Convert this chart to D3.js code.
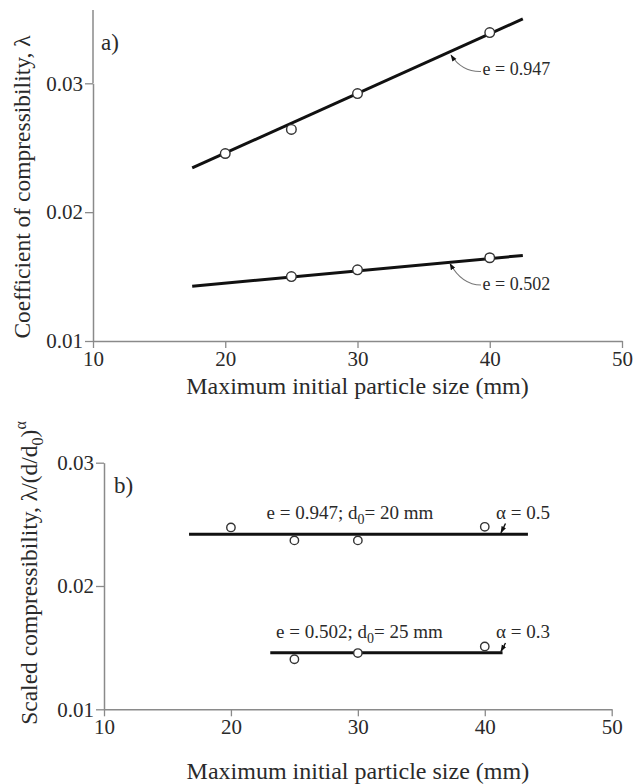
<!DOCTYPE html>
<html>
<head>
<meta charset="utf-8">
<script src="https://cdn.jsdelivr.net/npm/d3@7/dist/d3.min.js"></script>
<style>
  html, body { margin: 0; padding: 0; background: #fff; }
  svg text { font-family: "Liberation Serif", "Times New Roman", serif; fill: #2a2a2a; }
</style>
</head>
<body>
<svg id="chart" width="636" height="784"></svg>
<script>
// ---- Data ----
const xTicks = [10, 20, 30, 40, 50];
const yTicks = [0.01, 0.02, 0.03];

// (a) coefficient of compressibility vs. maximum particle size
const aSizes = [20, 25, 30, 40];
const aDense = [25, 30, 40];                 // sizes tested for e = 0.502
const aLooseValues = [0.02455, 0.02642, 0.0292, 0.03394];   // e = 0.947
const aDenseValues = [0.0150, 0.01552, 0.01646];            // e = 0.502
const aLooseFit = [[17.5, 0.02343], [42.5, 0.0350]];
const aDenseFit = [[17.5, 0.01425], [42.5, 0.01664]];

// (b) scaled compressibility
const bLooseSizes = [20, 25, 30, 40];
const bLooseValues = [0.02475, 0.02370, 0.02370, 0.02480];  // e = 0.947, d0 = 20 mm, alpha = 0.5
const bDenseSizes = [25, 30, 40];
const bDenseValues = [0.01406, 0.01456, 0.01510];           // e = 0.502, d0 = 25 mm, alpha = 0.3
const bLooseFit = [[16.7, 0.02420], [43.4, 0.02420]];
const bDenseFit = [[23.1, 0.01458], [41.4, 0.01458]];

const svg = d3.select("#chart");
const AXIS = "#8a8a8a";
const SERIF = "Liberation Serif, Times New Roman, serif";

svg.append("defs").append("marker")
  .attr("id", "arrow")
  .attr("viewBox", "0 0 10 10")
  .attr("refX", 9).attr("refY", 5)
  .attr("markerWidth", 7).attr("markerHeight", 7)
  .attr("markerUnits", "userSpaceOnUse")
  .attr("orient", "auto")
  .append("path").attr("d", "M0,1.5 L10,5 L0,8.5 Z").attr("fill", "#111");

function drawAxes(g, x, y) {
  const xAxis = d3.axisBottom(x).tickValues(xTicks).tickFormat(d3.format("d"))
    .tickSize(7).tickSizeOuter(0).tickPadding(2);
  const yAxis = d3.axisLeft(y).tickValues(yTicks).tickFormat(d3.format(".2f"))
    .tickSize(8).tickSizeOuter(0).tickPadding(2);
  const gx = g.append("g").attr("transform", `translate(0,${y.range()[0]})`).call(xAxis);
  const gy = g.append("g").attr("transform", `translate(${x.range()[0]},0)`).call(yAxis);
  [gx, gy].forEach(a => {
    a.attr("font-family", SERIF);
    a.select(".domain").attr("stroke", AXIS).attr("stroke-width", 1.5);
    a.selectAll(".tick line").attr("stroke", AXIS).attr("stroke-width", 1.3);
    a.selectAll(".tick text").attr("font-size", 21).attr("fill", "#2a2a2a");
  });
  gx.selectAll(".tick text").attr("dy", "0.75em");
}

function drawFit(g, x, y, pts) {
  g.append("path")
    .attr("d", d3.line().x(d => x(d[0])).y(d => y(d[1]))(pts))
    .attr("fill", "none").attr("stroke", "#111").attr("stroke-width", 3);
}

function drawPoints(g, x, y, xs, vs, r) {
  g.selectAll(null).data(xs.map((d, i) => [d, vs[i]])).enter().append("circle")
    .attr("cx", d => x(d[0])).attr("cy", d => y(d[1])).attr("r", r)
    .attr("fill", "#fff").attr("stroke", "#333").attr("stroke-width", 1.4);
}

// ================= Panel (a) =================
{
  const x = d3.scaleLinear().domain([10, 50]).range([93, 622]);
  const y = d3.scaleLinear().domain([0.01, 0.03]).range([341, 83.3]);
  const g = svg.append("g");
  drawAxes(g, x, y);
  // y axis line continues above the top tick
  g.append("line").attr("x1", x(10)).attr("x2", x(10)).attr("y1", y(0.03)).attr("y2", 10)
    .attr("stroke", AXIS).attr("stroke-width", 1.5);

  drawFit(g, x, y, aLooseFit);
  drawFit(g, x, y, aDenseFit);
  drawPoints(g, x, y, aSizes, aLooseValues, 4.8);
  drawPoints(g, x, y, aDense, aDenseValues, 4.8);

  // leader curves to the fitted lines
  const leaders = [
    { from: [481, 71.5], ctrl: [462, 72], to: [451, 55], label: "e = 0.947", ty: 74.5 },
    { from: [481, 285], ctrl: [462, 285], to: [450, 263.5], label: "e = 0.502", ty: 290 }
  ];
  leaders.forEach(l => {
    g.append("path")
      .attr("d", `M${l.from[0]},${l.from[1]} Q${l.ctrl[0]},${l.ctrl[1]} ${l.to[0]},${l.to[1]}`)
      .attr("fill", "none").attr("stroke", "#777").attr("stroke-width", 1.1)
      .attr("marker-end", "url(#arrow)");
    g.append("text").attr("x", 482.5).attr("y", l.ty).attr("font-size", 18).text(l.label);
  });

  g.append("text").attr("x", 101).attr("y", 50).attr("font-size", 23).text("a)");

  g.append("text").attr("x", x(30)).attr("y", 394)
    .attr("text-anchor", "middle").attr("font-size", 24)
    .text("Maximum initial particle size (mm)");

  g.append("text").attr("transform", "translate(30,187) rotate(-90)")
    .attr("text-anchor", "middle").attr("font-size", 23.5)
    .text("Coefficient of compressibility, λ");
}

// ================= Panel (b) =================
{
  const x = d3.scaleLinear().domain([10, 50]).range([104, 611.7]);
  const y = d3.scaleLinear().domain([0.01, 0.03]).range([709.3, 462.7]);
  const g = svg.append("g");
  drawAxes(g, x, y);

  drawFit(g, x, y, bLooseFit);
  drawFit(g, x, y, bDenseFit);
  drawPoints(g, x, y, bLooseSizes, bLooseValues, 4.2);
  drawPoints(g, x, y, bDenseSizes, bDenseValues, 4.2);

  const notes = [
    { d0: "20", e: "0.947", a: "0.5", ex: 266.5, ty: 518.5, ay: 0.02420 },
    { d0: "25", e: "0.502", a: "0.3", ex: 276, ty: 638, ay: 0.01458 }
  ];
  notes.forEach(n => {
    const t = g.append("text").attr("x", n.ex).attr("y", n.ty).attr("font-size", 19);
    t.append("tspan").text(`e = ${n.e}; d`);
    t.append("tspan").attr("font-size", 14).attr("dy", 5).text("0");
    t.append("tspan").attr("dy", -5).text(`= ${n.d0} mm`);

    g.append("text").attr("x", 496).attr("y", n.ty).attr("font-size", 19).text(`α = ${n.a}`);
    g.append("line").attr("x1", 505.5).attr("y1", n.ty + 5)
      .attr("x2", 501).attr("y2", y(n.ay) - 1.5)
      .attr("stroke", "#111").attr("stroke-width", 1.4)
      .attr("marker-end", "url(#arrow)");
  });

  g.append("text").attr("x", 114).attr("y", 493).attr("font-size", 23).text("b)");

  g.append("text").attr("x", x(30)).attr("y", 779)
    .attr("text-anchor", "middle").attr("font-size", 24)
    .text("Maximum initial particle size (mm)");

  const yl = g.append("text").attr("transform", "translate(37,573) rotate(-90)")
    .attr("text-anchor", "middle").attr("font-size", 23.5);
  yl.append("tspan").text("Scaled compressibility, λ/(d/d");
  yl.append("tspan").attr("font-size", 16).attr("dy", 6).text("0");
  yl.append("tspan").attr("dy", -6).text(")");
  yl.append("tspan").attr("font-size", 16).attr("dy", -11).text("α");
}
</script>
</body>
</html>
